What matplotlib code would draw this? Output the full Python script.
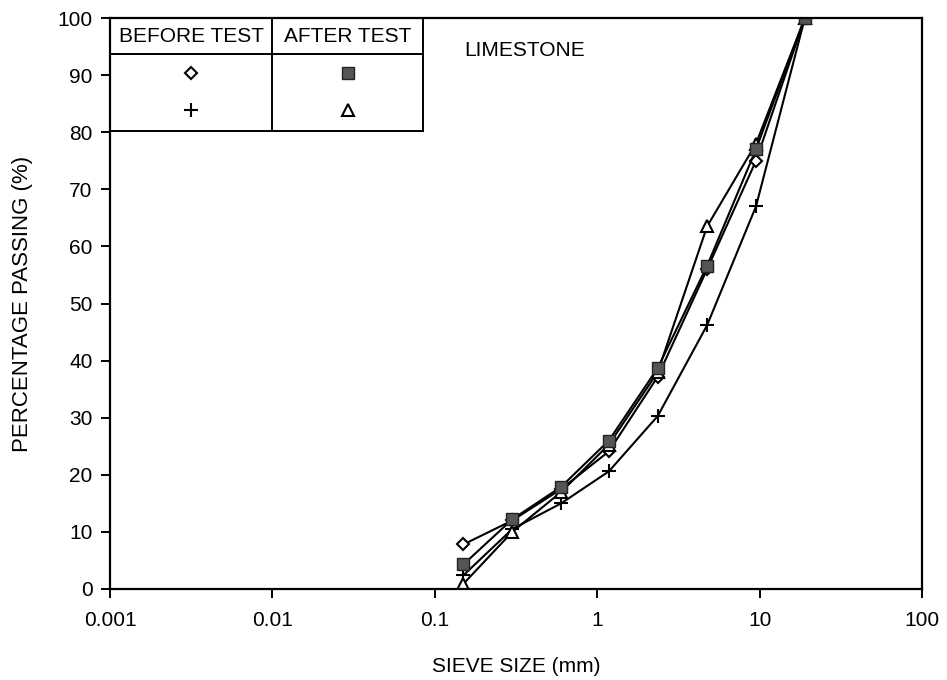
import numpy as np
import matplotlib
matplotlib.use("Agg")
import matplotlib.pyplot as plt
from matplotlib.lines import Line2D

plt.rcParams['font.family'] = ['Liberation Sans', 'DejaVu Sans']

# sieve sizes (mm) and percentage passing
sieve = [0.15, 0.3, 0.6, 1.18, 2.36, 4.75, 9.5, 19]
before_1 = [7.8, 12.0, 17.5, 24.1, 37.2, 56.0, 75.0, 100]   # diamond
before_2 = [2.4, 10.5, 15.0, 20.6, 30.3, 46.2, 67.0, 100]   # plus
after_1 = [4.3, 12.2, 17.9, 26.0, 38.7, 56.6, 77.0, 100]    # square
after_2 = [0.9, 10.0, 17.0, 25.3, 38.0, 63.5, 78.0, 100]    # triangle

xticks = [0.001, 0.01, 0.1, 1, 10, 100]
xticklabels = ['0.001', '0.01', '0.1', '1', '10', '100']
yticks = list(range(0, 101, 10))

fs = 15

fig = plt.figure(figsize=(9.47, 6.8), dpi=100)
ax = fig.add_axes([110/947, 1-589/680, 812/947, 571/680])

lw = 1.5
ax.plot(sieve, before_1, color='black', lw=lw, marker='D', ms=6,
        mfc='white', mec='black', mew=1.5)
ax.plot(sieve, before_2, color='black', lw=lw, marker='+', ms=10, mew=1.5)
ax.plot(sieve, after_2, color='black', lw=lw, marker='^', ms=8,
        mfc='white', mec='black', mew=1.5)
ax.plot(sieve, after_1, color='black', lw=lw, marker='s', ms=8,
        mfc='#555555', mec='#222222', mew=1.0)

ax.set_xscale('log')
ax.set_xlim(0.001, 100)
ax.set_ylim(0, 100)
ax.set_xticks(xticks)
ax.set_xticklabels(xticklabels)
ax.minorticks_off()
ax.set_yticks(yticks)
ax.tick_params(axis='both', direction='out', length=6.5, width=1.4,
               labelsize=fs)
ax.tick_params(axis='x', pad=9)
ax.tick_params(axis='y', pad=6)
for s in ax.spines.values():
    s.set_linewidth(1.6)

ax.set_xlabel('SIEVE SIZE (mm)', fontsize=fs, labelpad=20)
ax.set_ylabel('PERCENTAGE PASSING (%)', fontsize=16, labelpad=18)

# legend table in upper left
T = ax.transAxes
x_right = (423-110)/812
x_div = (272-110)/812
y_head = (589-54)/571
y_bot = (589-131)/571
for xs, ys in [([0, x_right], [y_head, y_head]),
               ([0, x_right], [y_bot, y_bot]),
               ([x_right, x_right], [y_bot, 1]),
               ([x_div, x_div], [y_bot, 1])]:
    ax.add_line(Line2D(xs, ys, transform=T, color='black', lw=1.4, clip_on=False))

c1 = x_div/2
c2 = (x_div+x_right)/2
ax.text(c1, (1+y_head)/2, 'BEFORE TEST', transform=T, ha='center', va='center', fontsize=fs)
ax.text(c2, (1+y_head)/2, 'AFTER TEST', transform=T, ha='center', va='center', fontsize=fs)
r1 = (589-73)/571
r2 = (589-110)/571
ax.plot([c1], [r1], transform=T, marker='D', ms=6, mfc='white', mec='black', mew=1.5)
ax.plot([c1], [r2], transform=T, marker='+', ms=10, color='black', mew=1.5)
ax.plot([c2], [r1], transform=T, marker='s', ms=8, mfc='#555555', mec='#222222', mew=1.0)
ax.plot([c2], [r2], transform=T, marker='^', ms=8, mfc='white', mec='black', mew=1.5)

ax.text((525-110)/812, (589-51)/571, 'LIMESTONE', transform=T,
        ha='center', va='center', fontsize=fs)

fig.savefig('out.png', dpi=100)
